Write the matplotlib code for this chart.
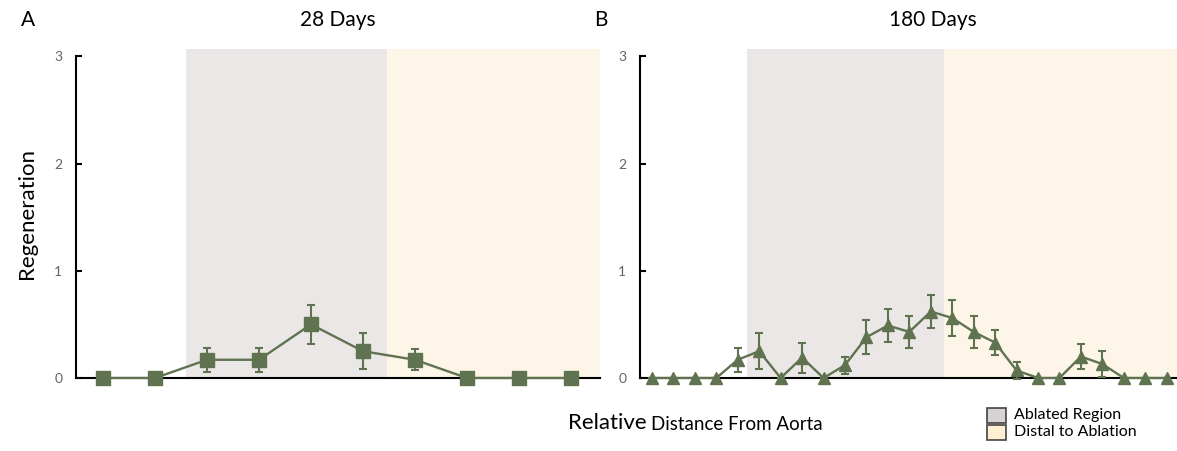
import matplotlib
matplotlib.use("Agg")
import matplotlib.pyplot as plt
from matplotlib.patches import Rectangle
import numpy as np

plt.rcParams['font.family'] = ['Lato', 'DejaVu Sans']

# 28 days panel (10 positions along the vessel)
pos_28 = np.arange(1, 11)
regen_28 = [0, 0, 0.17, 0.17, 0.5, 0.25, 0.17, 0, 0, 0]
err_28 = [0, 0, 0.11, 0.11, 0.18, 0.17, 0.10, 0, 0, 0]

# 180 days panel (25 positions)
pos_180 = np.arange(1, 26)
regen_180 = [0, 0, 0, 0, 0.17, 0.25, 0, 0.19, 0, 0.12, 0.38, 0.49, 0.43,
             0.62, 0.56, 0.43, 0.33, 0.07, 0, 0, 0.20, 0.13, 0, 0, 0]
err_180 = [0, 0, 0, 0, 0.11, 0.17, 0, 0.14, 0, 0.08, 0.16, 0.15, 0.15,
           0.15, 0.17, 0.15, 0.12, 0.08, 0, 0, 0.12, 0.12, 0, 0, 0]

# region bounds in position units: (ablated start, ablated end / distal start)
regions_28 = (2.6, 6.46)
regions_180 = (5.42, 14.6)

green = '#5f7350'
gray_fill = '#ebe7e6'
yellow_fill = '#fdf6e8'
tick_col = '#6b6060'

fig = plt.figure(figsize=(11.77, 4.51), dpi=100)
ax1 = fig.add_axes([0.0646, 0.1619, 0.4452, 0.7295])
ax2 = fig.add_axes([0.5438, 0.1619, 0.4562, 0.7295])


def draw_panel(ax, x, y, err, regions, xlim, marker, msize):
    ax.set_xlim(*xlim)
    ax.set_ylim(0, 3.07)
    ax.axvspan(regions[0], regions[1], color=gray_fill, lw=0, zorder=0)
    ax.axvspan(regions[1], xlim[1], color=yellow_fill, lw=0, zorder=0)
    ax.errorbar(x, y, yerr=err, color=green, lw=1.7, marker=marker,
                markersize=msize, capsize=3, elinewidth=1.5, capthick=1.5,
                zorder=5, clip_on=False)
    for s in ['top', 'right']:
        ax.spines[s].set_visible(False)
    ax.spines['left'].set_bounds(0, 3)
    ax.spines['left'].set_linewidth(1.5)
    ax.spines['bottom'].set_linewidth(1.5)
    ax.spines['bottom'].set_zorder(3)
    ax.set_yticks([0, 1, 2, 3])
    ax.set_xticks([])
    ax.tick_params(axis='y', direction='in', length=4, width=1.5,
                   labelsize=10, labelcolor=tick_col, pad=10)
    ax.patch.set_visible(False)


draw_panel(ax1, pos_28, regen_28, err_28, regions_28, (0.48, 10.56), 's', 9.5)
draw_panel(ax2, pos_180, regen_180, err_180, regions_180, (0.445, 25.48), '^', 8.5)

ax1.set_ylabel('Regeneration', fontsize=16, labelpad=12)

fig.text(28 / 1177, 1 - 20 / 451, 'A', fontsize=15, ha='center', va='center')
fig.text(601 / 1177, 1 - 20 / 451, 'B', fontsize=15, ha='center', va='center')
fig.text(338 / 1177, 1 - 20 / 451, '28 Days', fontsize=15, ha='center', va='center')
fig.text(933 / 1177, 1 - 20 / 451, '180 Days', fontsize=15, ha='center', va='center')

fig.text(568 / 1177, 1 - 423 / 451, 'Relative', fontsize=16, ha='left', va='center')
fig.text(651 / 1177, 1 - 424 / 451, 'Distance From Aorta', fontsize=13.5, ha='left', va='center')

# legend boxes
legend_items = [('Ablated Region', '#d9d2d2'), ('Distal to Ablation', '#fdefd0')]
for i, (lab, col) in enumerate(legend_items):
    ytop = 408 + i * 17
    fig.patches.append(Rectangle((987 / 1177, 1 - (ytop + 15) / 451), 19 / 1177, 15 / 451,
                                 transform=fig.transFigure, facecolor=col,
                                 edgecolor='#444444', lw=1.2))
    fig.text(1014 / 1177, 1 - (ytop + 7.5) / 451, lab, fontsize=11.5, ha='left', va='center')

fig.savefig('out.png', dpi=100)
